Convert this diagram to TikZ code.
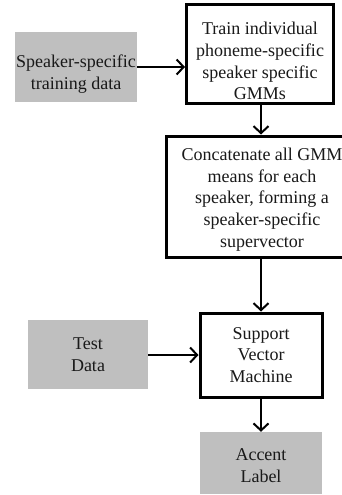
\documentclass[tikz,border=0pt]{standalone}
\usepackage{fontspec}
\setmainfont{Liberation Serif}
\usetikzlibrary{arrows.meta}
\begin{document}
\begin{tikzpicture}[x=1pt,y=-1pt,
  every node/.style={font=\fontsize{18}{21.8}\selectfont, align=center, inner sep=0pt, text=black!90},
  databox/.style={fill=black!25, draw=none},
  procbox/.style={draw=black, line width=3pt, fill=white},
  arr/.style={line width=2pt, -{Straight Barb[length=7pt,width=15pt,line width=2pt]}}]
\useasboundingbox (0,0) rectangle (342,495);
\clip (0,0) rectangle (342,495);
% input data blocks
\node[databox, minimum width=122pt, minimum height=70pt,
  label={[yshift=-7pt]center:{Speaker-specific\\training data}}] (train) at (76,67) {};
\node[databox, minimum width=120pt, minimum height=69pt,
  label={center:{Test\\Data}}] (test) at (88,354.5) {};
% processing blocks
\node[procbox, minimum width=147pt, minimum height=98pt,
  label={[yshift=-7pt]center:{Train individual\\phoneme-specific\\speaker specific\\GMMs}}] (gmm) at (260,54) {};
\node[procbox, minimum width=192pt, minimum height=121pt,
  label={[yshift=-3pt]center:{Concatenate all GMM\\means for each\\speaker, forming a\\speaker-specific\\supervector}}] (concat) at (262,196.5) {};
\node[procbox, minimum width=122pt, minimum height=84pt,
  label={center:{Support\\Vector\\Machine}}] (svm) at (261,355) {};
% output block
\node[databox, minimum width=122pt, minimum height=62pt,
  label={[yshift=-3pt]center:{Accent\\Label}}] (accent) at (261,463) {};
% connectors
\draw[arr] (train.east) -- (train.east -| gmm.west);
\draw[arr] (gmm.south -| 261,0) -- (concat.north -| 261,0);
\draw[arr] (concat.south -| 261,0) -- (svm.north -| 261,0);
\draw[arr] (test.east |- svm.west) -- (svm.west);
\draw[arr] (svm.south) -- (accent.north);
\end{tikzpicture}
\end{document}
